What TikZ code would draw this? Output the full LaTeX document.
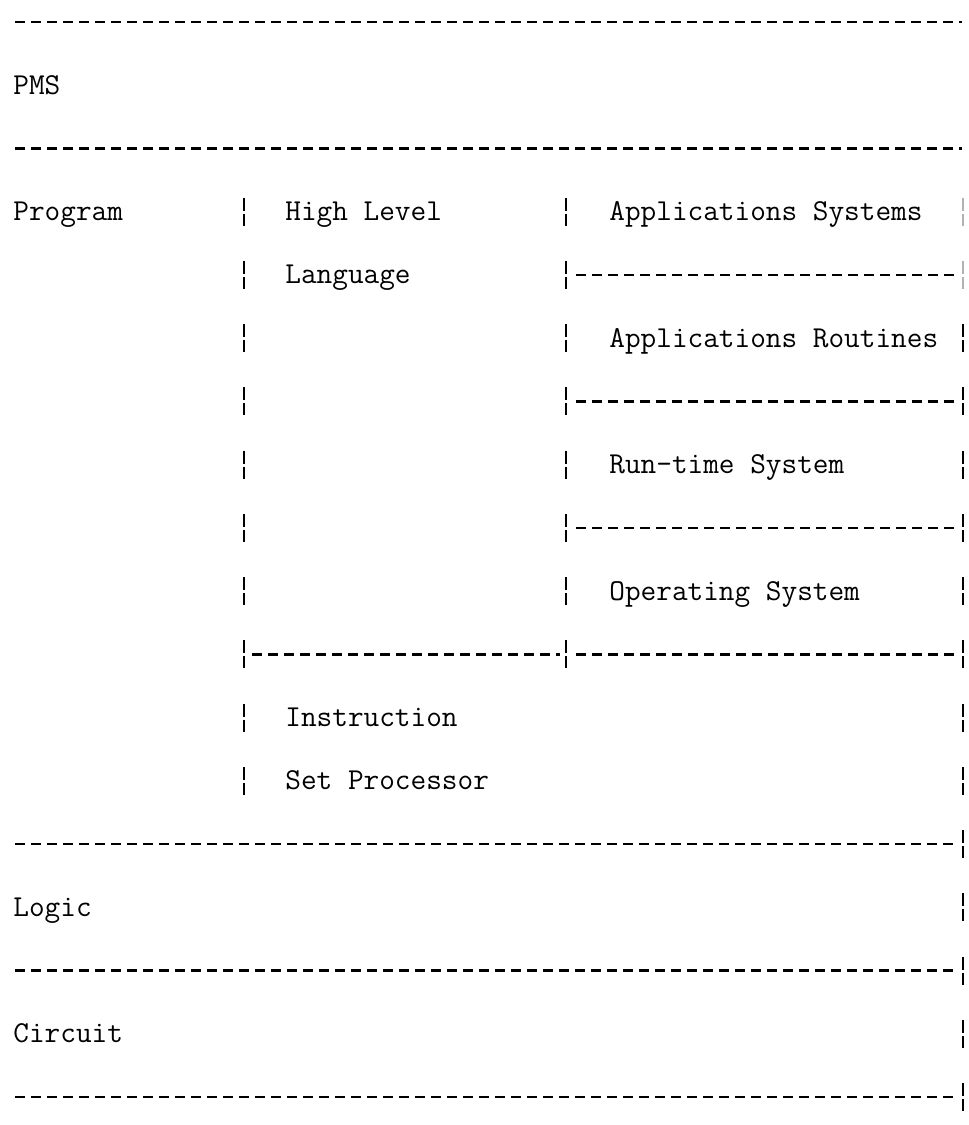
\documentclass[tikz,border=0pt]{standalone}
\begin{document}
\begin{tikzpicture}[x=0.5pt,y=-0.5pt,
  lbl/.style={anchor=base west, inner sep=0pt, font=\fontsize{15.2}{18}\selectfont\ttfamily},
  hdash/.style={line width=1.2pt, dash pattern=on 5pt off 3pt},
  vbar/.style={line width=0.9pt, dash pattern=on 6.5pt off 1.5pt},
  faintbar/.style={vbar, draw=black!30}]
\useasboundingbox (0,0) rectangle (969,1125);
% text rows: y = 22 + 63.24 k
\node[lbl] (pms)   at (13,{22+63.24*1+9}) {PMS};
\node[lbl] (prog)  at (13,{22+63.24*3+9}) {Program};
\node[lbl] (hll1)  at (285,{22+63.24*3+9}) {High Level};
\node[lbl] (hll2)  at (285,{22+63.24*4+9}) {Language};
\node[lbl] (appsys) at (609,{22+63.24*3+9}) {Applications Systems};
\node[lbl] (approu) at (609,{22+63.24*5+9}) {Applications Routines};
\node[lbl] (rts)   at (609,{22+63.24*7+9}) {Run-time System};
\node[lbl] (os)    at (609,{22+63.24*9+9}) {Operating System};
\node[lbl] (isp1)  at (285,{22+63.24*11+9}) {Instruction};
\node[lbl] (isp2)  at (285,{22+63.24*12+9}) {Set Processor};
\node[lbl] (logic) at (13,{22+63.24*14+9}) {Logic};
\node[lbl] (circ)  at (13,{22+63.24*16+9}) {Circuit};
% horizontal dashed rules
\foreach \k in {0,2} {\draw[hdash] (15,{22+63.24*\k}) -- (962,{22+63.24*\k});}
\foreach \k in {4,6,8,10} {\draw[hdash] (576,{22+63.24*\k}) -- (956,{22+63.24*\k});}
\draw[hdash] (252,{22+63.24*10}) -- (560,{22+63.24*10});
\foreach \k in {13,15,17} {\draw[hdash] (15,{22+63.24*\k}) -- (954,{22+63.24*\k});}
% vertical typed bars
\foreach \k in {3,...,12} {\draw[vbar] (244,{22+63.24*\k-14}) -- (244,{22+63.24*\k+14});}
\foreach \k in {3,...,10} {\draw[vbar] (566,{22+63.24*\k-14}) -- (566,{22+63.24*\k+14});}
\foreach \k in {3,4} {\draw[faintbar] (963,{22+63.24*\k-14}) -- (963,{22+63.24*\k+14});}
\foreach \k in {5,...,17} {\draw[vbar] (963,{22+63.24*\k-14}) -- (963,{22+63.24*\k+14});}
\end{tikzpicture}
\end{document}
